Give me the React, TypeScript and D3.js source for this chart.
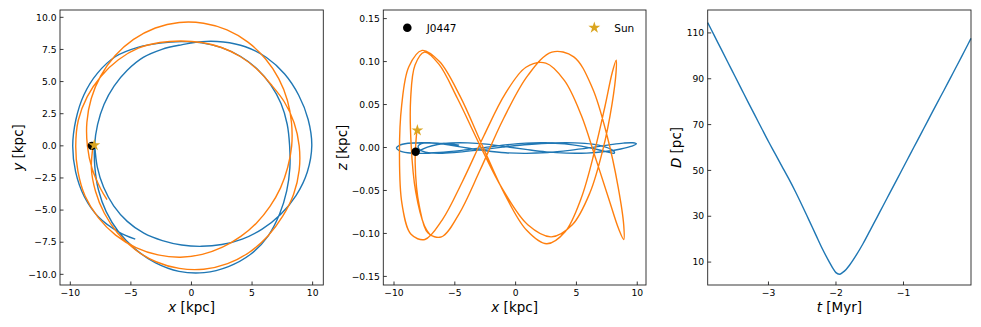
import React from 'react';
import * as d3 from 'd3';

// Sun orbit (orange), kpc
const sunX = [-8.12, -8.26, -7.92, -7.2, -6.1, -4.66, -2.93, -1.0, 1.01, 2.98, 4.78, 6.31, 7.53, 8.43, 8.89, 8.89, 8.47, 7.67, 6.57, 5.39, 4.02, 2.48, 0.85, -0.86, -2.61, -4.39, -6.03, -7.46, -8.6, -9.34, -9.55, -9.37, -8.78, -7.69, -6.26, -4.58, -2.76, -0.91, 0.89, 2.56, 4.07, 5.39, 6.48, 7.35, 7.94, 8.27, 8.26, 7.92, 7.2, 6.1, 4.66, 2.93, 1.0, -1.01, -2.98, -4.78, -6.31, -7.49, -8.27, -8.63, -8.59, -8.21, -7.5, -6.97];
const sunY = [0, -1.76, -3.53, -5.23, -6.78, -8.07, -9.02, -9.54, -9.6, -9.17, -8.28, -7.01, -5.47, -3.76, -1.89, 0, 1.8, 3.41, 4.77, 5.98, 6.95, 7.65, 8.04, 8.16, 8.04, 7.6, 6.7, 5.42, 3.83, 1.99, 0, -1.99, -3.91, -5.59, -6.95, -7.92, -8.49, -8.67, -8.45, -7.89, -7.05, -5.98, -4.71, -3.27, -1.69, 0, 1.76, 3.53, 5.23, 6.78, 8.07, 9.02, 9.54, 9.6, 9.17, 8.28, 7.01, 5.44, 3.68, 1.83, 0, -1.75, -3.34, -4.19];
const sunZ = [0.02, -0.018, -0.068, -0.0996, -0.104, -0.0774, -0.0265, 0.0335, 0.084, 0.111, 0.1055, 0.0693, 0.0131, -0.046, -0.0905, -0.107, -0.0946, -0.0602, -0.0122, 0.0378, 0.0778, 0.0982, 0.0934, 0.0624, 0.0136, -0.0401, -0.0842, -0.107, -0.101, -0.066, -0.01, 0.049, 0.094, 0.113, 0.1, 0.06, 0.003, -0.054, -0.096, -0.112, -0.098, -0.059, -0.005, 0.048, 0.087, 0.1015, 0.088, 0.05, -0.001, -0.053, -0.09, -0.104, -0.09, -0.05, 0.004, 0.057, 0.097, 0.111, 0.096, 0.057, 0.003, -0.052, -0.091, -0.103];

// J0447 orbit (blue), kpc
const jX = [-4.64, -6.02, -7.65, -8.85, -9.56, -9.8, -9.54, -8.88, -7.77, -6.26, -4.43, -2.6, -0.86, 0.85, 2.48, 4.03, 5.4, 6.54, 7.39, 7.9, 8.1, 8.12, 7.86, 7.28, 6.32, 4.88, 3.05, 1.04, -1.03, -2.96, -4.64, -6.02, -7.04, -7.68, -7.97, -8.0, -7.75, -7.22, -6.39, -5.3, -3.98, -2.44, -0.83, 0.86, 2.63, 4.45, 6.19, 7.69, 8.85, 9.63, 9.93, 9.56, 8.64, 7.35, 5.83, 4.19, 2.5, 0.83, -0.81, -2.4, -3.93, -5.3, -6.42, -7.25, -7.77, -7.98];
const jY = [-7.26, -6.69, -5.56, -3.94, -2.03, 0, 2.03, 3.96, 5.64, 6.95, 7.66, 7.99, 8.11, 8.01, 7.64, 6.97, 6.0, 4.75, 3.29, 1.68, 0, -1.73, -3.5, -5.29, -7.02, -8.44, -9.4, -9.87, -9.77, -9.11, -8.04, -6.69, -5.12, -3.42, -1.7, 0, 1.65, 3.22, 4.65, 5.88, 6.88, 7.51, 7.86, 8.11, 8.08, 7.71, 6.87, 5.59, 3.94, 2.05, 0, -2.03, -3.85, -5.34, -6.48, -7.26, -7.68, -7.82, -7.72, -7.38, -6.8, -5.88, -4.67, -3.23, -1.65, 0.0];
const jZ = [0.0028, 0.0046, 0.0056, 0.0049, 0.0026, -0.0006, -0.0038, -0.0061, -0.0068, -0.0058, -0.0033, -0.0001, 0.003, 0.0051, 0.0055, 0.0042, 0.0016, -0.0017, -0.0047, -0.0065, -0.0066, -0.0051, -0.0022, 0.001, 0.0039, 0.0054, 0.0053, 0.0035, 0.0005, -0.0028, -0.0054, -0.0067, -0.0063, -0.0042, -0.0012, 0.0021, 0.0046, 0.0056, 0.0049, 0.0026, -0.0006, -0.0038, -0.0061, -0.0068, -0.0058, -0.0033, -0.0001, 0.003, 0.0051, 0.0055, 0.0042, 0.0016, -0.0017, -0.0047, -0.0065, -0.0066, -0.0051, -0.0022, 0.001, 0.0039, 0.0054, 0.0053, 0.0035, 0.0005, -0.0028, -0.0054];

// present positions [x, y, z]
const sunNow = [-8.02, 0.05, 0.02];
const jNow = [-8.22, 0.0, -0.005];

// separation vs time
const tMyr = [-3.9, -3.8, -3.7, -3.6, -3.5, -3.4, -3.3, -3.2, -3.1, -3.0, -2.9, -2.8, -2.7, -2.6, -2.5, -2.4, -2.3, -2.2, -2.1, -2.05, -2.0, -1.95, -1.9, -1.85, -1.8, -1.7, -1.6, -1.5, -1.4, -1.3, -1.2, -1.1, -1.0, -0.9, -0.8, -0.7, -0.6, -0.5, -0.4, -0.3, -0.2, -0.1, 0.0];
const distPc = [114.5, 108.7, 102.9, 97.1, 91.3, 85.5, 79.7, 74.0, 68.3, 62.6, 57.2, 51.8, 46.4, 40.7, 34.6, 28.3, 22.0, 15.7, 10.1, 7.5, 5.4, 4.7, 5.5, 6.8, 8.6, 13.0, 18.0, 23.5, 29.1, 34.7, 40.3, 45.9, 51.5, 57.1, 62.7, 68.3, 73.9, 79.5, 85.0, 90.6, 96.2, 101.9, 107.6];

const kpcTicks = [-10, -5, 0, 5, 10];
const yTicks = [-10, -7.5, -5, -2.5, 0, 2.5, 5, 7.5, 10];
const zTicks = [-0.15, -0.1, -0.05, 0, 0.05, 0.1, 0.15];
const tTicks = [-3, -2, -1];
const dTicks = [10, 30, 50, 70, 90, 110];

const FONT = "'DejaVu Sans', sans-serif";
const C0 = '#1f77b4';
const C1 = '#ff7f0e';
const GOLD = '#DAA520';

const starPath = d3.symbol().type(d3.symbolStar).size(44)();

function Frame({ x, y, xt, yt, xf, yf, xLabel, yLabel, yLabelX }) {
  const [x0, x1] = x.range();
  const [y0, y1] = y.range();
  return (
    <g fontFamily={FONT}>
      <rect x={x0} y={y1} width={x1 - x0} height={y0 - y1} fill="none" stroke="#222" strokeWidth={0.9} />
      {xt.map(t => (
        <g key={'x' + t}>
          <line x1={x(t)} x2={x(t)} y1={y0} y2={y0 - 3.5} stroke="#222" strokeWidth={0.9} />
          <text x={x(t)} y={y0 + 11.2} textAnchor="middle" fontSize={9.2}>{xf(t)}</text>
        </g>
      ))}
      {yt.map(t => (
        <g key={'y' + t}>
          <line x1={x0} x2={x0 + 3.5} y1={y(t)} y2={y(t)} stroke="#222" strokeWidth={0.9} />
          <text x={x0 - 3.5} y={y(t)} dy="0.35em" textAnchor="end" fontSize={9.2}>{yf(t)}</text>
        </g>
      ))}
      <text x={(x0 + x1) / 2} y={311.7} textAnchor="middle" fontSize={13.5}>
        <tspan fontStyle="italic">{xLabel[0]}</tspan>{xLabel[1]}
      </text>
      <text transform={`translate(${yLabelX},${(y0 + y1) / 2}) rotate(-90)`} textAnchor="middle" fontSize={13.5}>
        <tspan fontStyle="italic">{yLabel[0]}</tspan>{yLabel[1]}
      </text>
    </g>
  );
}

export default function App() {
  // panel 1: x-y
  const x1 = d3.scaleLinear().domain([-10.85, 10.88]).range([60, 323.3]);
  const y1 = d3.scaleLinear().domain([-10.83, 10.57]).range([285, 10]);
  // panel 2: x-z
  const x2 = d3.scaleLinear().domain([-10.88, 10.72]).range([383.3, 646]);
  const y2 = d3.scaleLinear().domain([-0.16, 0.16]).range([285, 10]);
  // panel 3: D vs t
  const x3 = d3.scaleLinear().domain([-3.9, 0]).range([707.7, 971]);
  const y3 = d3.scaleLinear().domain([0, 120]).range([285, 10]);

  const curve = d3.curveCatmullRom.alpha(0.5);
  const lineXY = (xs, ys, sx, sy) =>
    d3.line().curve(curve)(xs.map((v, i) => [sx(v), sy(ys[i])]));

  const f1 = d3.format('.1f');
  const f2 = d3.format('.2f');
  const fi = d3.format('d');

  const dLine = d3.line().curve(d3.curveMonotoneX)(tMyr.map((t, i) => [x3(t), y3(distPc[i])]));

  return (
    <svg width={981} height={327} style={{ position: 'absolute', left: 0, top: 0, background: '#fff' }}>
      {/* panel 1 */}
      <path d={lineXY(jX, jY, x1, y1)} fill="none" stroke={C0} strokeWidth={1.4} />
      <path d={lineXY(sunX, sunY, x1, y1)} fill="none" stroke={C1} strokeWidth={1.4} />
      <circle cx={x1(jNow[0])} cy={y1(jNow[1])} r={4.2} fill="#000" />
      <path d={starPath} transform={`translate(${x1(sunNow[0])},${y1(sunNow[1])})`} fill={GOLD} />
      <Frame x={x1} y={y1} xt={kpcTicks} yt={yTicks} xf={fi} yf={f1}
        xLabel={['x', ' [kpc]']} yLabel={['y', ' [kpc]']} yLabelX={23.4} />

      {/* panel 2 */}
      <path d={lineXY(jX, jZ, x2, y2)} fill="none" stroke={C0} strokeWidth={1.4} />
      <path d={lineXY(sunX, sunZ, x2, y2)} fill="none" stroke={C1} strokeWidth={1.4} />
      <circle cx={x2(jNow[0])} cy={y2(jNow[2])} r={4.2} fill="#000" />
      <path d={starPath} transform={`translate(${x2(-8.08)},${y2(sunNow[2])})`} fill={GOLD} />
      <Frame x={x2} y={y2} xt={kpcTicks} yt={zTicks} xf={fi} yf={f2}
        xLabel={['x', ' [kpc]']} yLabel={['z', ' [kpc]']} yLabelX={346.7} />
      {/* legend */}
      <g fontFamily={FONT} fontSize={10.5}>
        <circle cx={407.3} cy={27.7} r={4.3} fill="#000" />
        <text x={426.7} y={31.5}>J0447</text>
        <path d={starPath} transform="translate(594.3,27.7)" fill={GOLD} />
        <text x={614.3} y={31.5}>Sun</text>
      </g>

      {/* panel 3 */}
      <path d={dLine} fill="none" stroke={C0} strokeWidth={1.4} />
      <Frame x={x3} y={y3} xt={tTicks} yt={dTicks} xf={fi} yf={fi}
        xLabel={['t', ' [Myr]']} yLabel={['D', ' [pc]']} yLabelX={680.5} />
    </svg>
  );
}
